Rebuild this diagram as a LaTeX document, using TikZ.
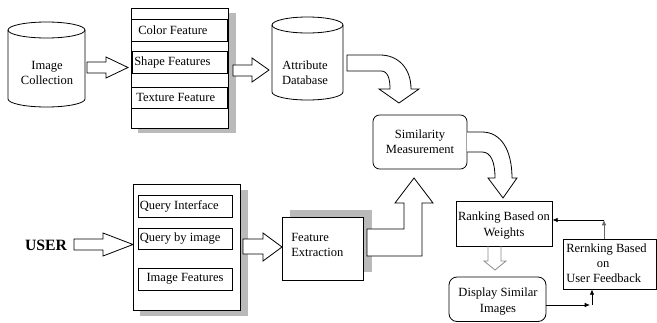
\documentclass[tikz,border=0pt]{standalone}
\usepackage{fontspec}
\setmainfont{Liberation Serif}
\usetikzlibrary{arrows.meta,fit}
\begin{document}
\begin{tikzpicture}[x=0.75pt,y=-0.75pt,
  lbl/.style={font=\fontsize{9.4}{11.3}\selectfont, inner sep=0pt, align=center},
  box/.style={draw, line width=0.6pt, fill=white, inner sep=0pt},
  shad/.style={fill=black!27, draw=none},
  blk/.style={draw, line width=0.6pt, fill=white, line join=miter},
  fb/.style={-{Latex[length=4pt,width=3.5pt]}, line width=0.6pt},
  rbox/.style={box, rounded corners=5pt}]
\useasboundingbox (0,0) rectangle (657,322);

% ---------- Image Collection cylinder
\draw[line width=0.6pt] (8,30) -- (8,99) arc[start angle=180, end angle=0, x radius=38.5, y radius=8] -- (85,30);
\draw[line width=0.6pt] (46.5,30) ellipse [x radius=38.5, y radius=8];
\node[lbl] (ic) at (47,72.5) {Image\\Collection};

% ---------- Features box
\fill[shad] (138,13) rectangle (236,133);
\node[box, fit={(131.5,8.5)(228,128)}] (feat) {};
\node[box, fit={(131.5,19)(227,41)}] (col) {};
\node[box, fit={(132.5,51)(227,73)}] (shp) {};
\node[box, fit={(131.5,87)(227,108)}] (tex) {};
\node[lbl, anchor=west] at (138,30) {Color Feature};
\node[lbl, anchor=west] at (134,62) {Shape Features};
\node[lbl, anchor=west] at (136,97.5) {Texture Feature};

% ---------- block arrows top row
\draw[blk] (87,62) -- (106,62) -- (106,57) -- (128,67.5) -- (106,78) -- (106,73) -- (87,73) -- cycle;
\draw[blk] (233,65) -- (252,65) -- (252,58) -- (269,70) -- (252,82) -- (252,76) -- (233,76) -- cycle;

% ---------- Attribute Database cylinder
\draw[line width=0.6pt] (272,25) -- (272,92) arc[start angle=180, end angle=0, x radius=35.5, y radius=8] -- (343,25);
\draw[line width=0.6pt] (307.5,25) ellipse [x radius=35.5, y radius=8];
\node[lbl] (adb) at (305,72.5) {Attribute\\Database};

% ---------- curved arrow to Similarity
\draw[blk] (347,55) -- (380,55) .. controls (398,55) and (411,68) .. (411,89) -- (419,89) -- (399,103) -- (379,89) -- (390,89) .. controls (390,79) and (388,71) .. (381,71) -- (347,71) -- cycle;

% ---------- Similarity Measurement
\node[rbox, fit={(373,115)(467,169)}] (sim) {};
\node[lbl] at (sim.center) {Similarity\\Measurement};

% ---------- curved arrow to Ranking
\draw[blk] (467,132) -- (482,132) .. controls (501,132) and (512,150) .. (512,178) -- (517,178) -- (503,198) -- (488,178) -- (495,178) .. controls (495,162) and (491,152) .. (482,152) -- (467,152);

% ---------- USER row
\node[font=\fontsize{11.8}{14}\selectfont\bfseries, inner sep=0pt] (user) at (46,245) {USER};
\draw[blk] (74,239) -- (103,239) -- (103,233) -- (133,244.5) -- (103,256) -- (103,250) -- (74,250) -- cycle;

\fill[shad] (140,190) rectangle (248,316);
\node[box, fit={(133,184)(240,310)}] (query) {};
\node[box, fit={(138,195)(232,217)}] (qi) {};
\node[box, fit={(138,228)(232,249)}] (qb) {};
\node[box, fit={(138,268)(232,290)}] (qf) {};
\node[lbl, anchor=west] at (139.5,206.5) {Query Interface};
\node[lbl, anchor=west] at (139.5,238.5) {Query by image};
\node[lbl] at (185,279) {Image Features};

\draw[blk] (243,239) -- (263,239) -- (263,233) -- (282,247) -- (263,261) -- (263,254) -- (243,254) -- cycle;

% ---------- Feature Extraction
\fill[shad] (290,210) rectangle (372,272);
\node[box, fit={(282,217)(363,280)}] (fe) {};
\node[lbl, align=left, anchor=west] at (291,245) {Feature\\Extraction};

% ---------- up arrow to Similarity
\draw[blk] (367,229) -- (404,229) -- (404,203) -- (395,203) -- (414,178) -- (433,203) -- (422,203) -- (422,256) -- (367,256) -- cycle;

% ---------- Ranking
\node[box, fit={(456,201)(552,246)}] (rank) {};
\node[lbl] at (504,225.5) {Ranking Based on\\Weights};

% ---------- Ranking to Display (light hollow arrow)
\draw[line width=0.6pt, black!45, line join=miter] (488,246) -- (488,261) -- (484,261) -- (495,270) -- (506,261) -- (501,261) -- (501,246);

% ---------- Display Similar Images
\node[rbox, rounded corners=6pt, fit={(449,277)(546,321.5)}] (disp) {};
\node[lbl] at (498,301.5) {Display Similar\\Images};

% ---------- Rernking
\node[box, fit={(563,239)(656.6,289)}] (rr) {};
\node[lbl, align=left, anchor=west] at (566,263.5) {Rernking Based\\\hspace{2.45em}on\\User Feedback};

% ---------- feedback connectors
\coordinate (fbc) at (604,220);
\draw[fb, black!60] (rr.north -| fbc) -- (fbc);
\draw[fb] (fbc) -- (rank.east |- fbc);
\coordinate (bc) at (590,305);
\draw[fb] (disp.east |- bc) -- (bc);
\coordinate (bv) at (592,305);
\draw[fb] (bv) -- (bv |- rr.south);
\end{tikzpicture}
\end{document}
